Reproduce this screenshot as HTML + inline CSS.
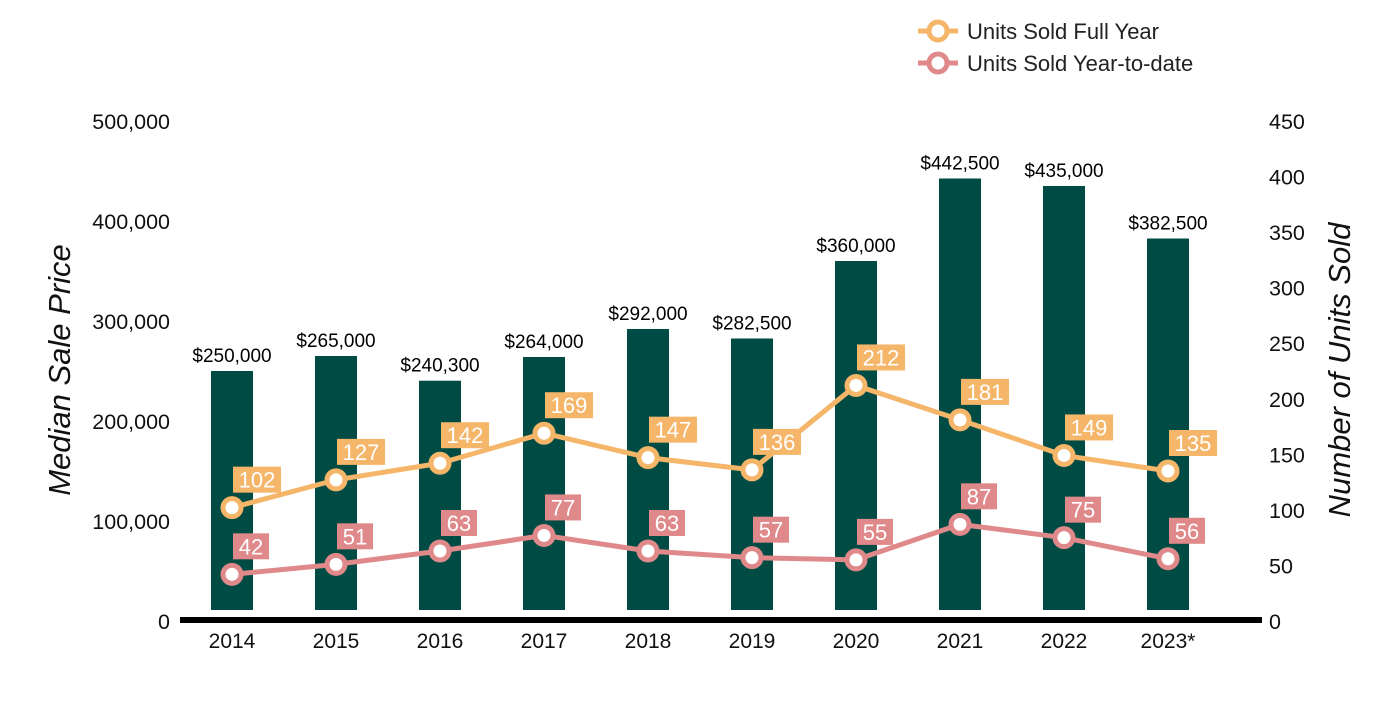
<!DOCTYPE html>
<html><head><meta charset="utf-8"><style>
body{margin:0;background:#fff;}
text{font-family:"Liberation Sans",Arial,sans-serif;}
</style></head><body>
<svg id="c" width="1400" height="700" xmlns="http://www.w3.org/2000/svg">
<g>
 <g>
  <line x1="918" y1="31" x2="958" y2="31" stroke="#F5B66A" stroke-width="5"/>
  <circle cx="938" cy="31" r="9" fill="#fff" stroke="#F5B66A" stroke-width="5"/>
  <text x="967" y="39" font-size="22" fill="#222">Units Sold Full Year</text>
 </g>
 <g>
  <line x1="918" y1="63" x2="958" y2="63" stroke="#E0898A" stroke-width="5"/>
  <circle cx="938" cy="63" r="9" fill="#fff" stroke="#E0898A" stroke-width="5"/>
  <text x="967" y="71" font-size="22" fill="#222">Units Sold Year-to-date</text>
 </g>
</g>
<text transform="translate(70,370) rotate(-90)" text-anchor="middle" font-size="31" font-style="italic" fill="#111">Median Sale Price</text>
<text transform="translate(1350,370) rotate(-90)" text-anchor="middle" font-size="31" font-style="italic" fill="#111">Number of Units Sold</text>
<g id="g"></g>
</svg>
<script>
const categories=["2014","2015","2016","2017","2018","2019","2020","2021","2022","2023*"];
const prices=[250000,265000,240300,264000,292000,282500,360000,442500,435000,382500];
const fullYear=[102,127,142,169,147,136,212,181,149,135];
const ytd=[42,51,63,77,63,57,55,87,75,56];
const leftTicks=[0,100000,200000,300000,400000,500000];
const rightTicks=[0,50,100,150,200,250,300,350,400,450];
const NS="http://www.w3.org/2000/svg";
const g=document.getElementById('g');
const y0=621;
const yL=v=>y0-v*500/500000;
const yR=v=>y0-v*500/450;
const xC=i=>232+i*104;
function mk(t,a,p){const e=document.createElementNS(NS,t);for(const k in a)e.setAttribute(k,a[k]);(p||g).appendChild(e);return e;}
leftTicks.forEach(v=>{const t=mk('text',{x:170,y:yL(v)+8,'text-anchor':'end','font-size':21.5,fill:'#111'});t.textContent=v.toLocaleString('en-US');

});
rightTicks.forEach(v=>{const t=mk('text',{x:1269,y:yR(v)+8,'font-size':21.5,fill:'#111'});t.textContent=v;

});
categories.forEach((c,i)=>{
 const b=mk('rect',{x:xC(i)-21,y:yL(prices[i]),width:42,height:610-yL(prices[i]),fill:'#004B43'});
 
 
 const l=mk('text',{x:xC(i),y:yL(prices[i])-9,'text-anchor':'middle','font-size':19,fill:'#000'});l.textContent='$'+prices[i].toLocaleString('en-US');
 
 
 const t=mk('text',{x:xC(i),y:648,'text-anchor':'middle','font-size':21,fill:'#111'});t.textContent=c;
 
 
});
const ax=mk('line',{x1:180,y1:620,x2:1262,y2:620,stroke:'#000','stroke-width':6});


function series(vals,col,name){
 const pl=mk('polyline',{points:vals.map((v,i)=>xC(i)+','+yR(v)).join(' '),fill:'none',stroke:col,'stroke-width':5});
 
 
 vals.forEach((v,i)=>{
  const cx=xC(i),cy=yR(v);
  const c=mk('circle',{cx:cx,cy:cy,r:9,fill:'#fff',stroke:col,'stroke-width':5});
  
  
  const s=String(v),w=s.length*12+12;
  const r=mk('rect',{x:cx+1,y:cy-41,width:w,height:26,fill:col});
  
  
  const t=mk('text',{x:cx+1+w/2,y:cy-20,'text-anchor':'middle','font-size':22,fill:'#fff'});t.textContent=s;
  
  
 });
}
series(fullYear,'#F5B66A','full-year');
series(ytd,'#E0898A','ytd');
</script>
</body></html>
